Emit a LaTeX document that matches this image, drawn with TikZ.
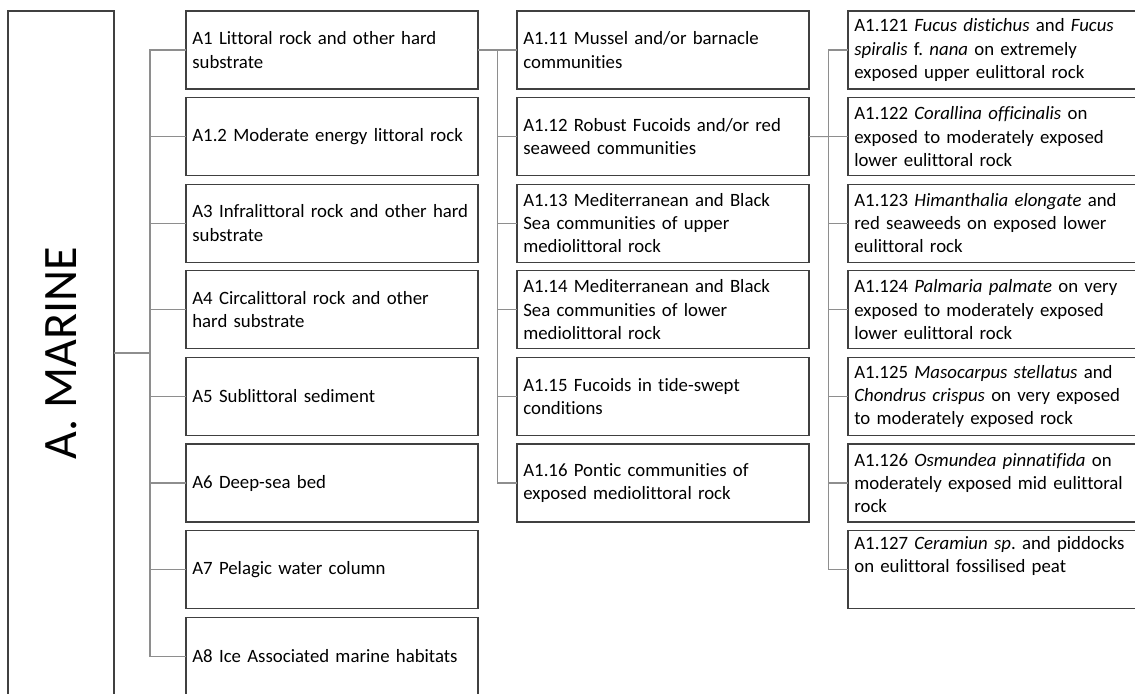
\documentclass[tikz,border=0pt]{standalone}
\usepackage{fontspec}
\setmainfont{Carlito}[Ligatures=NoCommon]
\usepackage{graphicx}
\usetikzlibrary{calc,positioning}
\hyphenpenalty=10000
\frenchspacing
\definecolor{EunisInk}{HTML}{404040}
\definecolor{EunisLink}{HTML}{8E8E8E}
\tikzset{
  eunis/box/.style={
    draw=EunisInk, line width=1pt, fill=white, outer sep=0pt,
    minimum width=219pt, minimum height=58.5pt,
    text width=209.5pt, inner xsep=4.75pt, inner ysep=0pt,
    align=left, font=\fontsize{14.1pt}{17.5pt}\selectfont
  },
  eunis/root/.style={
    draw=EunisInk, line width=1pt, outer sep=0pt,
    minimum width=79.5pt, minimum height=513pt,
    font=\fontsize{36pt}{40pt}\selectfont
  },
  eunis/link/.style={draw=EunisLink, line width=.8pt}
}
\begin{document}
\begin{tikzpicture}[x=.75pt,y=-.75pt,node distance=6.45pt and 29.25pt]
  \clip (0,0) rectangle (1135,693);
  \node[eunis/root] (marine) at (61,353) {\rotatebox{90}{A. MARINE}};

  \node[eunis/box,anchor=north west] (littoral) at (186,11) {A1 Littoral rock and other hard\\substrate};
  \node[eunis/box,below=of littoral] (moderate) {A1.2 Moderate energy littoral rock};
  \node[eunis/box,below=of moderate] (infra) {A3 Infralittoral rock and other hard\\substrate};
  \node[eunis/box,below=of infra] (circa) {A4 Circalittoral rock and other\\hard substrate};
  \node[eunis/box,below=of circa] (sublit) {A5 Sublittoral sediment};
  \node[eunis/box,below=of sublit] (deepsea) {A6 Deep-sea bed};
  \node[eunis/box,below=of deepsea] (pelagic) {A7 Pelagic water column};
  \node[eunis/box,below=of pelagic] (ice) {A8 Ice Associated marine habitats};

  \node[eunis/box,right=of littoral] (mussel) {A1.11 Mussel and/or barnacle\\communities};
  \node[eunis/box,below=of mussel] (fucoid) {A1.12 Robust Fucoids and/or red\\seaweed communities};
  \node[eunis/box,below=of fucoid] (medup) {A1.13 Mediterranean and Black\\Sea communities of upper\\mediolittoral rock};
  \node[eunis/box,below=of medup] (medlow) {A1.14 Mediterranean and Black\\Sea communities of lower\\mediolittoral rock};
  \node[eunis/box,below=of medlow] (tideswept) {A1.15 Fucoids in tide-swept\\conditions};
  \node[eunis/box,below=of tideswept] (pontic) {A1.16 Pontic communities of\\exposed mediolittoral rock};

  \node[eunis/box,right=of mussel] (fdist) {A1.121 \textit{Fucus distichus} and \textit{Fucus}\\\textit{spiralis} f. \textit{nana} on extremely\\exposed upper eulittoral rock};
  \node[eunis/box,below=of fdist] (coral) {A1.122 \textit{Corallina officinalis} on\\exposed to moderately exposed\\lower eulittoral rock};
  \node[eunis/box,below=of coral] (himan) {A1.123 \textit{Himanthalia elongate} and\\red seaweeds on exposed lower\\eulittoral rock};
  \node[eunis/box,below=of himan] (palm) {A1.124 \textit{Palmaria palmate} on very\\exposed to moderately exposed\\lower eulittoral rock};
  \node[eunis/box,below=of palm] (maso) {A1.125 \textit{Masocarpus stellatus} and\\\textit{Chondrus crispus} on very exposed\\to moderately exposed rock};
  \node[eunis/box,below=of maso] (osmun) {A1.126 \textit{Osmundea pinnatifida} on\\moderately exposed mid eulittoral\\rock};
  \node[eunis/box,below=of osmun] (ceram) {A1.127 \textit{Ceramiun sp}. and piddocks\\on eulittoral fossilised peat\\\strut};

  \coordinate (j1) at ($(marine.east)!.5!(marine.east -| littoral.west)$);
  \coordinate (j2) at ($(littoral.east)!.5!(mussel.west)$);
  \coordinate (j3) at ($(fucoid.east)!.5!(coral.west)$);
  \draw[eunis/link] (marine.east) -- (j1);
  \draw[eunis/link] (littoral.east) -- (j2);
  \draw[eunis/link] (fucoid.east) -- (j3);
  \foreach \n in {littoral,moderate,infra,circa,sublit,deepsea,pelagic,ice}
    \draw[eunis/link] (j1) |- (\n.west);
  \foreach \n in {mussel,fucoid,medup,medlow,tideswept,pontic}
    \draw[eunis/link] (j2) |- (\n.west);
  \foreach \n in {fdist,coral,himan,palm,maso,osmun,ceram}
    \draw[eunis/link] (j3) |- (\n.west);
\end{tikzpicture}
\end{document}
